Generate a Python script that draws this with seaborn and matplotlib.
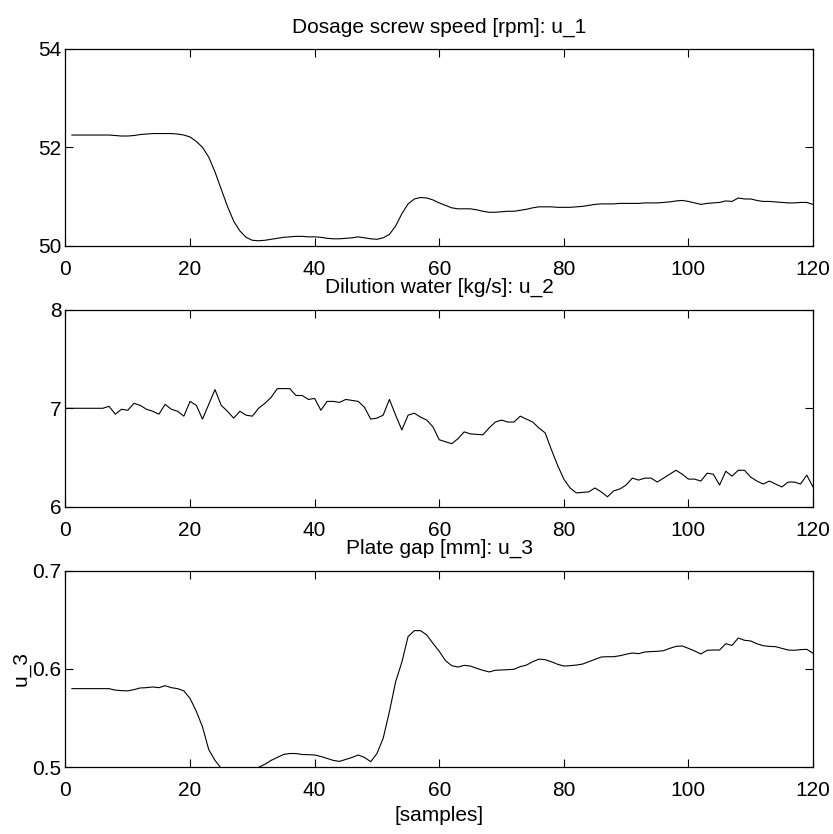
import matplotlib
matplotlib.use('Agg')
import numpy as np
import pandas as pd
import matplotlib.pyplot as plt
import seaborn as sns

# sample index
samples = list(range(1, 121))
samples_u2 = list(range(0, 121))

# dosage screw speed [rpm]
u_1 = [52.25, 52.25, 52.25, 52.25, 52.25, 52.25, 52.25, 52.24, 52.23, 52.23,
       52.24, 52.26, 52.27, 52.28, 52.28, 52.28, 52.28, 52.27, 52.25, 52.21,
       52.12, 52.00, 51.80, 51.50, 51.15, 50.80, 50.50, 50.30, 50.17, 50.11,
       50.10, 50.11, 50.13, 50.15, 50.17, 50.18, 50.19, 50.19, 50.18, 50.18,
       50.17, 50.15, 50.14, 50.14, 50.15, 50.16, 50.18, 50.16, 50.14, 50.13,
       50.16, 50.23, 50.40, 50.65, 50.85, 50.95, 50.98, 50.97, 50.93, 50.87,
       50.82, 50.77, 50.75, 50.75, 50.75, 50.73, 50.70, 50.68, 50.68, 50.69,
       50.70, 50.70, 50.72, 50.74, 50.77, 50.79, 50.79, 50.79, 50.78, 50.78,
       50.78, 50.79, 50.80, 50.82, 50.84, 50.85, 50.85, 50.85, 50.86, 50.86,
       50.86, 50.86, 50.87, 50.87, 50.87, 50.88, 50.89, 50.91, 50.92, 50.90,
       50.87, 50.84, 50.86, 50.87, 50.88, 50.91, 50.90, 50.97, 50.95, 50.95,
       50.92, 50.90, 50.90, 50.89, 50.88, 50.87, 50.87, 50.88, 50.88, 50.84]

# dilution water [kg/s]
u_2 = [7.00, 7.00, 7.00, 7.00, 7.00, 7.00, 7.00, 7.02, 6.94, 6.99,
       6.98, 7.05, 7.03, 6.99, 6.97, 6.94, 7.04, 6.99, 6.97, 6.92,
       7.07, 7.03, 6.89, 7.04, 7.19, 7.03, 6.97, 6.90, 6.97, 6.93,
       6.92, 7.00, 7.05, 7.11, 7.20, 7.20, 7.20, 7.13, 7.13, 7.09,
       7.10, 6.98, 7.07, 7.07, 7.06, 7.09, 7.08, 7.07, 7.01, 6.89,
       6.90, 6.93, 7.09, 6.93, 6.78, 6.93, 6.95, 6.91, 6.88, 6.81,
       6.68, 6.66, 6.64, 6.69, 6.76, 6.74, 6.735, 6.73, 6.80, 6.86,
       6.88, 6.86, 6.86, 6.92, 6.89, 6.86, 6.80, 6.75, 6.58, 6.42,
       6.28, 6.19, 6.14, 6.145, 6.15, 6.19, 6.15, 6.10, 6.16, 6.18,
       6.22, 6.29, 6.27, 6.29, 6.29, 6.25, 6.29, 6.33, 6.37, 6.33,
       6.28, 6.28, 6.26, 6.34, 6.33, 6.22, 6.36, 6.31, 6.37, 6.37,
       6.30, 6.26, 6.23, 6.26, 6.23, 6.20, 6.25, 6.25, 6.23, 6.32,
       6.20]

# plate gap [mm]
u_3 = [0.580, 0.580, 0.580, 0.580, 0.580, 0.580, 0.580, 0.5785, 0.578, 0.5777,
       0.579, 0.5807, 0.581, 0.5817, 0.581, 0.583, 0.581, 0.580, 0.5777, 0.570,
       0.557, 0.541, 0.518, 0.507, 0.499, 0.495, 0.493, 0.493, 0.494, 0.497,
       0.500, 0.503, 0.507, 0.510, 0.513, 0.514, 0.514, 0.513, 0.5128, 0.5125,
       0.511, 0.509, 0.507, 0.506, 0.508, 0.510, 0.5125, 0.510, 0.5057, 0.514,
       0.5295, 0.5566, 0.587, 0.607, 0.633, 0.639, 0.639, 0.6346, 0.626, 0.618,
       0.6085, 0.6034, 0.602, 0.6037, 0.603, 0.6007, 0.5987, 0.597, 0.5987, 0.599,
       0.5993, 0.5997, 0.6024, 0.604, 0.6074, 0.610, 0.6095, 0.6074, 0.6048, 0.603,
       0.6034, 0.604, 0.605, 0.6074, 0.6098, 0.6122, 0.6125, 0.6125, 0.6135, 0.615,
       0.6163, 0.6156, 0.6173, 0.6177, 0.618, 0.6186, 0.621, 0.623, 0.6234, 0.621,
       0.6183, 0.6153, 0.619, 0.6193, 0.6193, 0.6257, 0.624, 0.6315, 0.6292, 0.6285,
       0.6257, 0.6237, 0.623, 0.6227, 0.621, 0.6193, 0.619, 0.6197, 0.620, 0.616]

titles = ['Dosage screw speed [rpm]: u_1', 'Dilution water [kg/s]: u_2', 'Plate gap [mm]: u_3']
yticks = [[50, 52, 54], [6, 7, 8], [0.5, 0.6, 0.7]]
ytick_labels = [['50', '52', '54'], ['6', '7', '8'], ['0.5', '0.6', '0.7']]
xticks = [0, 20, 40, 60, 80, 100, 120]

sns.set_theme(style='ticks')
plt.rcParams['font.family'] = ['Liberation Sans', 'DejaVu Sans']
plt.rcParams.update({
    'xtick.direction': 'in', 'ytick.direction': 'in',
    'xtick.top': True, 'ytick.right': True,
    'xtick.major.size': 6, 'ytick.major.size': 6,
    'xtick.major.width': 0.8, 'ytick.major.width': 0.8,
    'axes.linewidth': 0.9, 'axes.edgecolor': 'black',
    'xtick.color': 'black', 'ytick.color': 'black',
    'text.color': 'black', 'axes.labelcolor': 'black',
    'xtick.labelsize': 15, 'ytick.labelsize': 15,
})

fig = plt.figure(figsize=(8.33, 8.34), dpi=100)
positions = [[0.0786, 0.7054, 0.8974, 0.2359],
             [0.0786, 0.3925, 0.8974, 0.2359],
             [0.0786, 0.0800, 0.8974, 0.2357]]

frames = [pd.DataFrame({'x': samples, 'y': u_1}),
          pd.DataFrame({'x': samples_u2, 'y': u_2}),
          pd.DataFrame({'x': samples, 'y': u_3})]

for i, (pos, df) in enumerate(zip(positions, frames)):
    ax = fig.add_axes(pos)
    sns.lineplot(data=df, x='x', y='y', ax=ax, color='black', linewidth=0.8)
    ax.set_xlim(0, 120)
    ax.set_ylim(yticks[i][0], yticks[i][-1])
    ax.set_xticks(xticks)
    ax.set_xticklabels([str(t) for t in xticks])
    ax.set_yticks(yticks[i])
    ax.set_yticklabels(ytick_labels[i])
    ax.tick_params(axis='x', pad=10)
    ax.tick_params(axis='y', pad=3)
    ax.set_title(titles[i], fontsize=15, pad=12, color='black')
    ax.set_xlabel('')
    ax.set_ylabel('')
    for s in ax.spines.values():
        s.set_visible(True)

ax.set_ylabel('u_3', fontsize=15, labelpad=1)
ax.set_xlabel('[samples]', fontsize=15, labelpad=4)

fig.savefig('out.png', dpi=100, facecolor='white')
